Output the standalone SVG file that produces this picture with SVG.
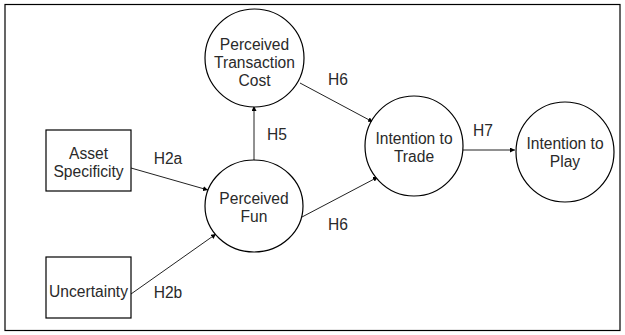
<svg xmlns="http://www.w3.org/2000/svg" width="625" height="335" viewBox="0 0 625 335">
<style>
.n{fill:#fff;stroke:#000;stroke-width:1.2}
.t{font-family:"Liberation Sans",Arial,sans-serif;font-size:15.6px;fill:#2a2a2a;text-anchor:middle;dominant-baseline:central}
.e{stroke:#222;stroke-width:1;fill:none;marker-end:url(#a)}
</style>
<defs>
<marker id="a" viewBox="0 0 10 10" refX="10" refY="5" markerWidth="5" markerHeight="5" orient="auto" markerUnits="userSpaceOnUse">
<path d="M0,0 L10,5 L0,10 z" fill="#000"/>
</marker>
</defs>
<rect x="5" y="4.5" width="615" height="326" fill="#fff" stroke="#000" stroke-width="1.2"/>
<g id="edges">
<line class="e" x1="131" y1="168" x2="208" y2="190"/>
<line class="e" x1="131" y1="294" x2="216" y2="234"/>
<line class="e" x1="254" y1="160" x2="254" y2="106"/>
<line class="e" x1="300" y1="83" x2="373" y2="122"/>
<line class="e" x1="302" y1="217" x2="378" y2="177"/>
<line class="e" x1="463" y1="150" x2="515" y2="150"/>
</g>
<g id="asset">
<rect class="n" x="46" y="130" width="85" height="61"/>
<text class="t" x="88.5" y="153">Asset</text>
<text class="t" x="88.5" y="171">Specificity</text>
</g>
<g id="uncertainty">
<rect class="n" x="46" y="257" width="85" height="61"/>
<text class="t" x="88.5" y="291">Uncertainty</text>
</g>
<g id="ptc">
<ellipse class="n" cx="254.5" cy="58" rx="49.5" ry="49"/>
<text class="t" x="254.5" y="44">Perceived</text>
<text class="t" x="254.5" y="62">Transaction</text>
<text class="t" x="254.5" y="80">Cost</text>
</g>
<g id="fun">
<ellipse class="n" cx="254" cy="206" rx="49" ry="46"/>
<text class="t" x="254" y="198">Perceived</text>
<text class="t" x="254" y="216">Fun</text>
</g>
<g id="trade">
<ellipse class="n" cx="414" cy="146" rx="49" ry="50"/>
<text class="t" x="414" y="138">Intention to</text>
<text class="t" x="414" y="156">Trade</text>
</g>
<g id="play">
<ellipse class="n" cx="565" cy="152" rx="49" ry="50"/>
<text class="t" x="565" y="143">Intention to</text>
<text class="t" x="565" y="161">Play</text>
</g>
<g id="labels">
<text class="t" x="168" y="158">H2a</text>
<text class="t" x="168" y="292">H2b</text>
<text class="t" x="277" y="134">H5</text>
<text class="t" x="338" y="79">H6</text>
<text class="t" x="338" y="224">H6</text>
<text class="t" x="483" y="130">H7</text>
</g>
</svg>
